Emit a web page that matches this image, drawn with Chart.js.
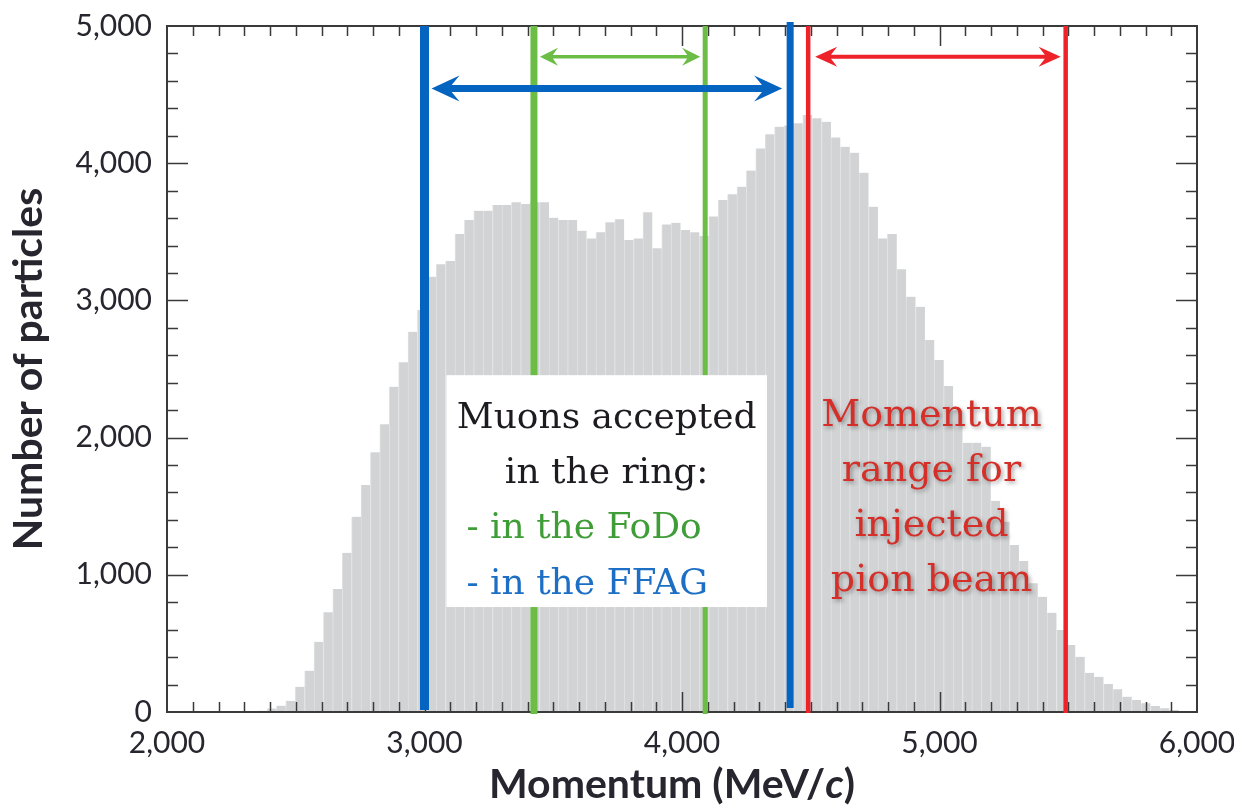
<!DOCTYPE html>
<html>
<head>
<meta charset="utf-8">
<script src="https://cdn.jsdelivr.net/npm/chart.js@4.4.1/dist/chart.umd.min.js"></script>
<style>
  html, body { margin: 0; padding: 0; background: #fff; }
  #wrap { width: 1234px; height: 808px; }
</style>
</head>
<body>
<div id="wrap"><canvas id="momentumChart" width="1234" height="808"></canvas></div>
<script>
// Histogram binning (MeV/c)
const binStart = 2279;
const binWidth = 36.5;

// Particles per bin
const counts = [
  5, 8, 10, 25, 46, 82, 184, 301, 512, 727,
  896, 1161, 1424, 1655, 1893, 2097, 2371, 2549, 2772, 2930,
  3173, 3263, 3287, 3484, 3586, 3654, 3654, 3695, 3695, 3715,
  3703, 3715, 3715, 3603, 3586, 3586, 3508, 3452, 3496, 3569,
  3591, 3440, 3452, 3642, 3380, 3554, 3566, 3513, 3496, 3470,
  3612, 3732, 3773, 3829, 3946, 4108, 4211, 4266, 4275, 4291,
  4351, 4327, 4302, 4188, 4120, 4077, 3931, 3683, 3452, 3484,
  3227, 3027, 2954, 2711, 2566, 2376, 2200, 1963, 1963, 1934,
  1540, 1387, 1217, 1100, 938, 840, 724, 598, 488, 403,
  286, 257, 204, 165, 112, 87, 63, 44, 27, 15,
  5
];

const xTickValues = [2000, 3000, 4000, 5000, 6000];
const yTickValues = [0, 1000, 2000, 3000, 4000, 5000];

// Momentum limits (MeV/c)
const ffagRange = [3000, 4420];
const fodoRange = [3425, 4090];
const pionRange = [4490, 5490];

const boxLines = ["Muons accepted", "in the ring:", "- in the FoDo", "- in the FFAG"];
const pionLines = ["Momentum", "range for", "injected", "pion beam"];

const BLUE = "#0564c0";
const GREEN = "#6cbd45";
const RED = "#ee2229";
const AXIS = "#3a3a3a";
const LABEL = "#27252e";

const points = counts.map((c, i) => ({ x: binStart + binWidth * (i + 0.5), y: c }));
const fmt = v => Number(v).toLocaleString("en-US");

function doubleArrow(ctx, x1, x2, y, s, L, H, color) {
  ctx.save();
  ctx.fillStyle = color;
  ctx.beginPath();
  ctx.moveTo(x1, y);
  ctx.lineTo(x1 + L, y - H);
  ctx.lineTo(x1 + L * 0.72, y - s / 2);
  ctx.lineTo(x2 - L * 0.72, y - s / 2);
  ctx.lineTo(x2 - L, y - H);
  ctx.lineTo(x2, y);
  ctx.lineTo(x2 - L, y + H);
  ctx.lineTo(x2 - L * 0.72, y + s / 2);
  ctx.lineTo(x1 + L * 0.72, y + s / 2);
  ctx.lineTo(x1 + L, y + H);
  ctx.closePath();
  ctx.fill();
  ctx.restore();
}

// Frame, inward ticks, range markers, arrows and notes
const decorations = {
  id: "decorations",
  afterDatasetsDraw(chart) {
    const { ctx, chartArea: a, scales: { x, y } } = chart;

    // ticks on all four sides
    ctx.save();
    ctx.strokeStyle = AXIS;
    ctx.lineWidth = 1.5;
    ctx.beginPath();
    for (let v = 2100; v < 6000; v += 100) {
      const px = Math.round(x.getPixelForValue(v)) + 0.5;
      const len = v % 1000 === 0 ? 20 : 10;
      ctx.moveTo(px, a.bottom); ctx.lineTo(px, a.bottom - len);
      ctx.moveTo(px, a.top); ctx.lineTo(px, a.top + len);
    }
    for (let v = 200; v < 5000; v += 200) {
      const py = Math.round(y.getPixelForValue(v)) + 0.5;
      const len = v % 1000 === 0 ? 21 : 11;
      ctx.moveTo(a.left, py); ctx.lineTo(a.left + len, py);
      ctx.moveTo(a.right, py); ctx.lineTo(a.right - len, py);
    }
    ctx.stroke();
    ctx.lineWidth = 2;
    ctx.strokeRect(a.left, a.top, a.right - a.left, a.bottom - a.top);
    ctx.restore();

    // vertical range lines
    const vline = (v, w, color, top, bottom) => {
      const px = x.getPixelForValue(v);
      ctx.fillStyle = color;
      ctx.fillRect(px - w / 2, top, w, bottom - top);
    };
    vline(fodoRange[0], 7, GREEN, a.top, a.bottom + 2);
    vline(fodoRange[1], 5, GREEN, a.top, a.bottom + 2);
    vline(ffagRange[0], 9, BLUE, a.top, a.bottom - 2);
    vline(ffagRange[1], 7, BLUE, a.top - 4, a.bottom - 4);
    vline(pionRange[0], 4.5, RED, a.top, a.bottom + 1);
    vline(pionRange[1], 4.5, RED, a.top, a.bottom + 1);

    // range arrows
    const bx1 = x.getPixelForValue(ffagRange[0]), bx2 = x.getPixelForValue(ffagRange[1]);
    doubleArrow(ctx, bx1 + 7, bx2 - 8, y.getPixelForValue(4545), 7, 28, 13, BLUE);
    const gx1 = x.getPixelForValue(fodoRange[0]), gx2 = x.getPixelForValue(fodoRange[1]);
    doubleArrow(ctx, gx1 + 6, gx2 - 5, y.getPixelForValue(4775), 3.5, 18, 9, GREEN);
    const rx1 = x.getPixelForValue(pionRange[0]), rx2 = x.getPixelForValue(pionRange[1]);
    doubleArrow(ctx, rx1 + 7, rx2 - 5, y.getPixelForValue(4775), 4, 22, 10, RED);

    // white note box
    const left = x.getPixelForValue(3085), right = x.getPixelForValue(4330);
    const top = y.getPixelForValue(2455), bottom = y.getPixelForValue(765);
    ctx.fillStyle = "#ffffff";
    ctx.fillRect(left, top, right - left, bottom - top);

    ctx.save();
    ctx.font = "36px 'DejaVu Serif'";
    ctx.textBaseline = "alphabetic";
    const cx = (left + right) / 2;
    ctx.fillStyle = "#1d1b20";
    ctx.textAlign = "center";
    ctx.fillText(boxLines[0], cx, top + 53);
    ctx.fillText(boxLines[1], cx, top + 108);
    ctx.textAlign = "left";
    ctx.fillStyle = "#3f9d38";
    ctx.fillText(boxLines[2], left + 20, top + 163);
    ctx.fillStyle = "#1c6fc4";
    ctx.fillText(boxLines[3], left + 20, top + 219);

    // injected pion note
    ctx.font = "38px 'DejaVu Serif'";
    ctx.textAlign = "center";
    ctx.fillStyle = "#d42f28";
    ctx.shadowColor = "rgba(0,0,0,0.35)";
    ctx.shadowBlur = 4;
    ctx.shadowOffsetX = 2;
    ctx.shadowOffsetY = 2;
    const px = x.getPixelForValue(4969);
    pionLines.forEach((t, i) => ctx.fillText(t, px, top + 51 + i * 55));
    ctx.restore();

    // x axis title with italic c
    ctx.save();
    ctx.fillStyle = LABEL;
    ctx.textBaseline = "alphabetic";
    const bold = "bold 41px Lato";
    const ital = "italic bold 41px Lato";
    const parts = [["Momentum (MeV/", bold], ["c", ital], [")", bold]];
    let total = 0;
    parts.forEach(([t, f]) => { ctx.font = f; total += ctx.measureText(t).width; });
    let tx = (a.left + a.right) / 2 - 10 - total / 2;
    ctx.textAlign = "left";
    parts.forEach(([t, f]) => { ctx.font = f; ctx.fillText(t, tx, 798); tx += ctx.measureText(t).width; });
    ctx.restore();
  }
};

new Chart(document.getElementById("momentumChart").getContext("2d"), {
  type: "bar",
  data: {
    datasets: [{
      data: points,
      backgroundColor: "#d1d3d4",
      borderColor: "#e1e2e3",
      borderWidth: { left: 1, right: 0, top: 0, bottom: 0 },
      borderSkipped: false,
      barPercentage: 1,
      categoryPercentage: 1
    }]
  },
  options: {
    responsive: false,
    animation: false,
    devicePixelRatio: 1,
    layout: { padding: { top: 26, right: 37, left: 0, bottom: 0 } },
    plugins: {
      legend: { display: false },
      tooltip: { enabled: false }
    },
    scales: {
      x: {
        type: "linear",
        min: 2000,
        max: 6000,
        offset: false,
        grid: { display: false, drawTicks: false, offset: false },
        border: { display: false },
        afterBuildTicks: s => { s.ticks = xTickValues.map(v => ({ value: v })); },
        ticks: {
          padding: 13,
          maxRotation: 0,
          color: LABEL,
          font: { family: "Lato", size: 30 },
          callback: fmt
        },
        afterFit: s => { s.height = 96; s.paddingLeft = 0; s.paddingRight = 0; }
      },
      y: {
        type: "linear",
        min: 0,
        max: 5000,
        grid: { display: false, drawTicks: false },
        border: { display: false },
        afterBuildTicks: s => { s.ticks = yTickValues.map(v => ({ value: v })); },
        ticks: {
          padding: 15,
          color: LABEL,
          font: { family: "Lato", size: 30 },
          callback: fmt
        },
        title: {
          display: true,
          text: "Number of particles",
          color: LABEL,
          font: { family: "Lato", size: 41, weight: "bold" },
          padding: { top: 4, bottom: 0 }
        },
        afterFit: s => { s.width = 167; s.paddingTop = 0; s.paddingBottom = 0; }
      }
    }
  },
  plugins: [decorations]
});
</script>
</body>
</html>
